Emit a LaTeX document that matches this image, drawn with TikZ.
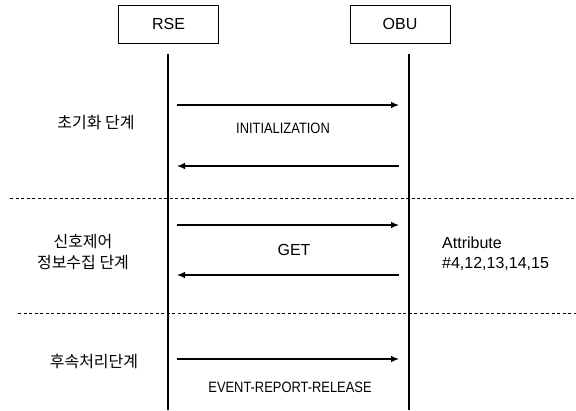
\documentclass[tikz,border=0pt]{standalone}
\usepackage{fontspec}
\setmainfont{Liberation Sans}
\newfontfamily\narrowfont{Liberation Sans}[FakeStretch=0.86]
\newfontfamily\kor{Noto Sans CJK KR}
\usepackage{tikz}
\usetikzlibrary{arrows.meta}
\tikzstyle{entity}=[draw, line width=0.9pt, minimum width=100pt, minimum height=38pt, inner sep=0pt, font=\fontsize{16}{18}\selectfont]
\tikzstyle{lifeline}=[line width=2.6pt]
\tikzstyle{msg}=[line width=1.1pt, -{Latex[length=8pt,width=6.5pt]}]
\tikzstyle{phase line}=[line width=0.9pt, dash pattern=on 3pt off 2.5pt]
\tikzstyle{phase}=[inner sep=0pt, align=center, font=\kor\fontsize{16}{21}\selectfont]
\tikzstyle{msglabel}=[inner sep=0pt, font=\narrowfont\fontsize{15}{18}\selectfont]

\begin{document}
\begin{tikzpicture}[x=1pt,y=-1pt]
\useasboundingbox (0,0) rectangle (576,410);

\node[entity] (rse) at (168.5,24) {RSE};
\node[entity] (obu) at (400,24) {OBU};

% lifelines
\coordinate (rsetop) at (168,54);
\coordinate (rsebot) at (168,410);
\coordinate (obutop) at (409,54);
\coordinate (obubot) at (409,410);
\draw[lifeline] (rsetop) -- (rsebot);
\draw[lifeline] (obutop) -- (obubot);

% message ends
\coordinate (a1) at (177,105);  \coordinate (b1) at (399,105);
\coordinate (a2) at (177,166);  \coordinate (b2) at (399,166);
\coordinate (a3) at (177,225);  \coordinate (b3) at (399,225);
\coordinate (a4) at (177,275);  \coordinate (b4) at (399,275);
\coordinate (a5) at (177,359);  \coordinate (b5) at (399,359);

\draw[msg] (a1) -- (b1);
\draw[msg] (b2) -- (a2);
\draw[msg] (a3) -- (b3);
\draw[msg] (b4) -- (a4);
\draw[msg] (a5) -- (b5);

\node[msglabel] (init) at (283,128) {INITIALIZATION};
\node[inner sep=0pt, font=\fontsize{16}{18}\selectfont] (get) at (294,250) {GET};
\node[msglabel] (release) at (290,387) {EVENT-REPORT-RELEASE};

% phases
\node[phase] (ph1) at (96,123) {초기화 단계};
\node[phase] (ph2) at (83,252.5) {신호제어\\정보수집 단계};
\node[phase] (ph3) at (94,361) {후속처리단계};

\node[inner sep=0pt, anchor=west, align=left, font=\fontsize{16}{20}\selectfont] (attr) at (442,254) {Attribute\\\#4,12,13,14,15};

\coordinate (d1l) at (10,198);  \coordinate (d1r) at (576,198);
\coordinate (d2l) at (18,313);  \coordinate (d2r) at (576,313);
\draw[phase line] (d1l) -- (d1r);
\draw[phase line] (d2l) -- (d2r);
\end{tikzpicture}
\end{document}
